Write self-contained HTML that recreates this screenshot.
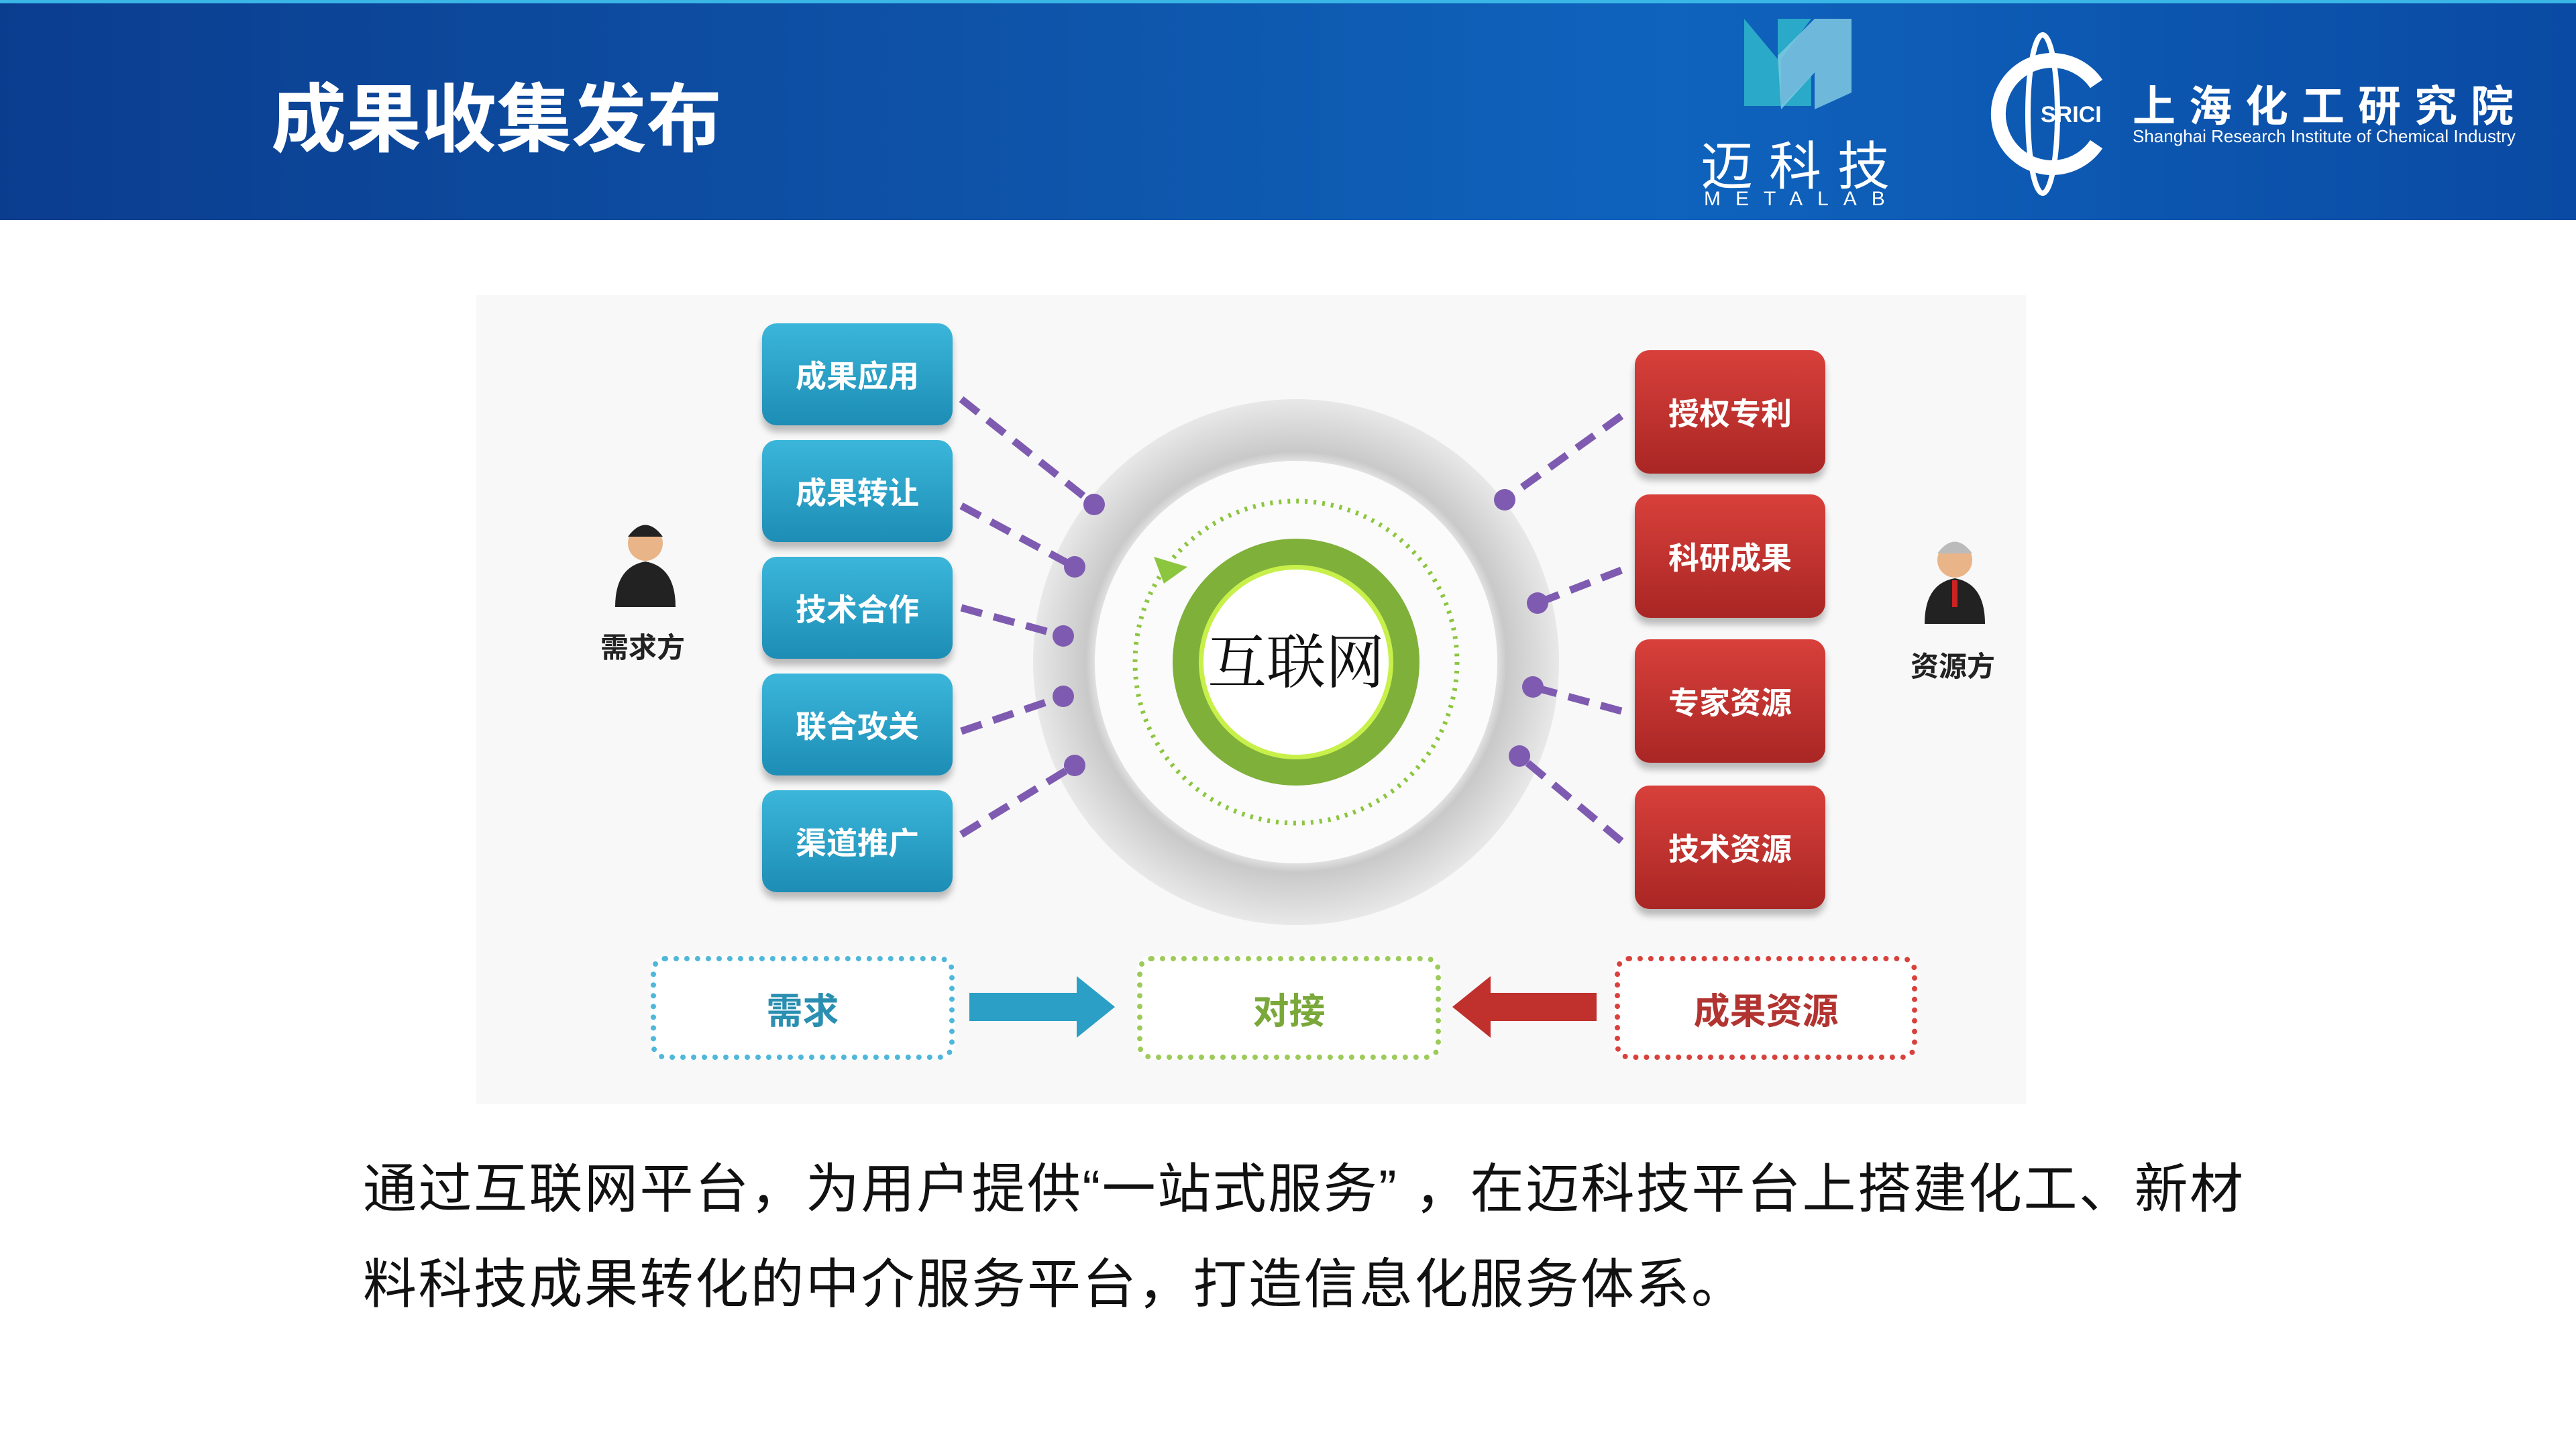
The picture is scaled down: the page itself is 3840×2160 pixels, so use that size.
<!DOCTYPE html>
<html><head><meta charset="utf-8"><style>
*{margin:0;padding:0;box-sizing:border-box}
body{width:3840px;height:2160px;background:#fff;position:relative;overflow:hidden;font-family:"Liberation Sans","Noto Sans CJK SC",sans-serif}
.a{position:absolute}
.hdr{left:0;top:0;width:3840px;height:328px;background:linear-gradient(90deg,#0b3d8f 0%,#0e57ad 45%,#0f63bd 65%,#0a4aa3 100%);border-top:5px solid #39b6e6}
.t{color:#fff;font-weight:bold}
.bb,.rb{position:absolute;width:284px;border-radius:22px;color:#fff;font-weight:bold;font-size:46px;display:flex;align-items:center;justify-content:center;box-shadow:0 10px 10px rgba(0,0,0,.25)}
.bb{height:152px;background:linear-gradient(#3bb6da,#1d8db5);left:1136px}
.rb{height:184px;background:linear-gradient(#d8403b,#a92624);left:2437px}
.db{position:absolute;top:1425px;height:155px;border:8px dotted;border-radius:22px;display:flex;align-items:center;justify-content:center;font-weight:bold;font-size:54px;background:#fff}
.p{font-size:80px;color:#111;left:541px;letter-spacing:2.5px;white-space:nowrap}
</style></head><body>
<div class="a hdr"></div>
<div class="a t" style="left:404px;top:88px;font-size:112px">成果收集发布</div>
<svg class="a" style="left:2595px;top:28px" width="170" height="140"><polygon points="5,0 55,60 55,0 105,0 60,60 60,130 105,85 105,130 5,130" fill="#2aa9c8"/><polygon points="55,55 110,0 165,0 165,110 110,135 110,80 60,135" fill="#7fc9e0" opacity=".85"/></svg>
<div class="a t" style="left:2535px;top:186px;font-size:78px;font-weight:normal;letter-spacing:24px">迈科技</div>
<div class="a t" style="left:2540px;top:280px;font-size:30px;font-weight:normal;letter-spacing:22px">METALAB</div>
<svg class="a" style="left:2930px;top:45px" width="230" height="250"><ellipse cx="115" cy="125" rx="22" ry="118" fill="none" stroke="#fff" stroke-width="8"/><path d="M195,80 A80,80 0 1 0 195,170" fill="none" stroke="#fff" stroke-width="22"/><text x="112" y="137" font-size="34" font-weight="bold" fill="#fff" font-family="Liberation Sans">SRICI</text></svg>
<div class="a t" style="left:3179px;top:108px;font-size:64px;letter-spacing:20px;white-space:nowrap">上海化工研究院</div>
<div class="a t" style="left:3179px;top:188px;font-size:26px;font-weight:normal;white-space:nowrap">Shanghai Research Institute of Chemical Industry</div>
<div class="a" style="left:710px;top:440px;width:2310px;height:1206px;background:#f8f8f8"></div>
<svg class="a" style="left:0;top:0" width="3840" height="2160">
<defs><radialGradient id="g"><stop offset="0.72" stop-color="#fff"/><stop offset="0.8" stop-color="#c9c9c9"/><stop offset="1" stop-color="#e8e8e8"/></radialGradient></defs>
<circle cx="1932" cy="987" r="392" fill="url(#g)"/>
<circle cx="1932" cy="987" r="300" fill="#fbfbfb"/>
<circle cx="1932" cy="987" r="240" fill="none" stroke="#8cc63f" stroke-width="7" stroke-dasharray="4 9"/>
<polygon points="1720,830 1770,845 1735,870" fill="#8cc63f"/>
<circle cx="1932" cy="987" r="184" fill="#7fb03a"/>
<circle cx="1932" cy="987" r="145" fill="#c8f04a"/>
<circle cx="1932" cy="987" r="138" fill="#fff"/>
<g stroke="#7e5bb0" stroke-width="11" stroke-dasharray="32 18" fill="#7e5bb0">
<line x1="1433" y1="595" x2="1631" y2="752"/><line x1="1433" y1="754" x2="1602" y2="845"/><line x1="1433" y1="906" x2="1585" y2="948"/><line x1="1433" y1="1090" x2="1585" y2="1038"/><line x1="1433" y1="1244" x2="1602" y2="1141"/>
<line x1="2417" y1="620" x2="2243" y2="745"/><line x1="2417" y1="850" x2="2292" y2="899"/><line x1="2417" y1="1060" x2="2285" y2="1024"/><line x1="2417" y1="1254" x2="2265" y2="1127"/>
</g>
<g fill="#7e5bb0"><circle cx="1631" cy="752" r="16"/><circle cx="1602" cy="845" r="16"/><circle cx="1585" cy="948" r="16"/><circle cx="1585" cy="1038" r="16"/><circle cx="1602" cy="1141" r="16"/><circle cx="2243" cy="745" r="16"/><circle cx="2292" cy="899" r="16"/><circle cx="2285" cy="1024" r="16"/><circle cx="2265" cy="1127" r="16"/></g>
<polygon points="1445,1480 1605,1480 1605,1455 1662,1501 1605,1547 1605,1522 1445,1522" fill="#2b9fc6"/>
<polygon points="2380,1480 2222,1480 2222,1455 2165,1501 2222,1547 2222,1522 2380,1522" fill="#c0302c"/>
<g transform="translate(962,845)"><circle cx="0" cy="-35" r="26" fill="#e9b487"/><path d="M-26,-45 Q0,-80 26,-45 Z" fill="#222"/><path d="M-45,60 Q-45,0 0,-8 Q45,0 45,60 Z" fill="#222"/></g>
<g transform="translate(2914,870)"><circle cx="0" cy="-35" r="26" fill="#e9b487"/><path d="M-26,-45 Q0,-80 26,-45 Z" fill="#bbb"/><path d="M-45,60 Q-45,0 0,-8 Q45,0 45,60 Z" fill="#222"/><rect x="-4" y="-5" width="8" height="40" fill="#c22"/></g>
<text x="1932" y="1018" text-anchor="middle" font-size="88" fill="#111" font-family="Liberation Serif, Noto Serif CJK SC, serif">互联网</text>
</svg>
<div class="bb" style="top:482px">成果应用</div>
<div class="bb" style="top:656px">成果转让</div>
<div class="bb" style="top:830px">技术合作</div>
<div class="bb" style="top:1004px">联合攻关</div>
<div class="bb" style="top:1178px">渠道推广</div>
<div class="rb" style="top:522px">授权专利</div>
<div class="rb" style="top:737px">科研成果</div>
<div class="rb" style="top:953px">专家资源</div>
<div class="rb" style="top:1171px">技术资源</div>
<div class="a" style="left:895px;top:932px;font-size:42px;font-weight:bold;color:#222">需求方</div>
<div class="a" style="left:2848px;top:960px;font-size:42px;font-weight:bold;color:#222">资源方</div>
<div class="db" style="left:970px;width:453px;border-color:#4fb7da;color:#2a8fb0">需求</div>
<div class="db" style="left:1695px;width:453px;border-color:#9ccb5a;color:#7aa83a">对接</div>
<div class="db" style="left:2407px;width:451px;border-color:#d9413c;color:#b23431">成果资源</div>
<div class="a p" style="top:1708px">通过互联网平台，为用户提供“一站式服务” ，在迈科技平台上搭建化工、新材</div>
<div class="a p" style="top:1850px">料科技成果转化的中介服务平台，打造信息化服务体系。</div>
</body></html>
